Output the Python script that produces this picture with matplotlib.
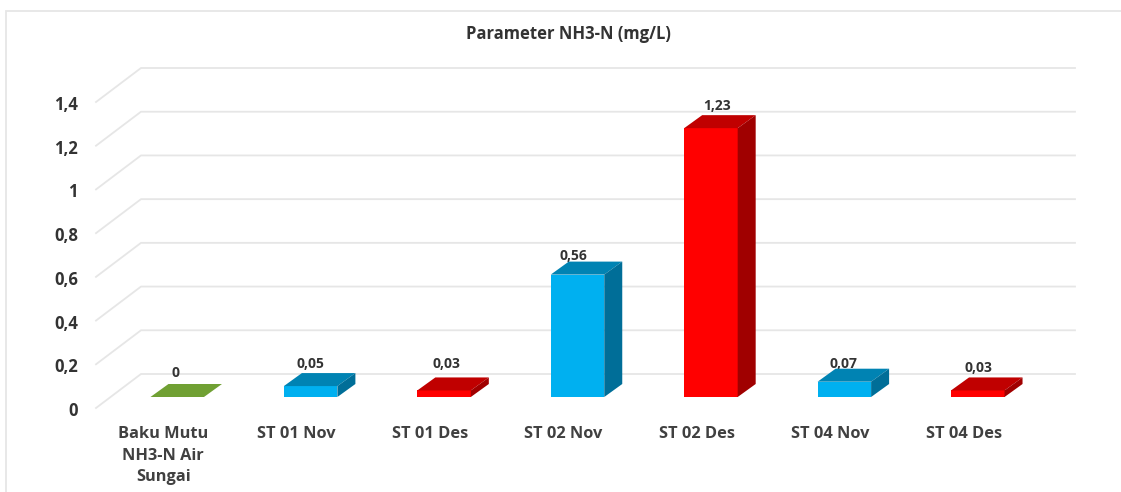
import matplotlib
matplotlib.use("Agg")
import matplotlib.pyplot as plt
from matplotlib.patches import Polygon, Rectangle
from matplotlib.transforms import Affine2D

categories = ["Baku Mutu\nNH3-N Air\nSungai", "ST 01 Nov", "ST 01 Des", "ST 02 Nov",
              "ST 02 Des", "ST 04 Nov", "ST 04 Des"]
values = [0, 0.05, 0.03, 0.56, 1.23, 0.07, 0.03]
value_labels = ["0", "0,05", "0,03", "0,56", "1,23", "0,07", "0,03"]
label_nudges = [(-2, 25), (0, 23), (2, 27), (-4, 20), (6, 23), (-1, 19), (1, 23)]
y_ticks = [0, 0.2, 0.4, 0.6, 0.8, 1.0, 1.2, 1.4]
y_tick_labels = ["0", "0,2", "0,4", "0,6", "0,8", "1", "1,2", "1,4"]
front_colors = ["#70A033", "#00B0F0", "#FF0000", "#00B0F0", "#FF0000", "#00B0F0", "#FF0000"]
top_colors = ["#70A033", "#0083B3", "#C00000", "#0083B3", "#C00000", "#0083B3", "#C00000"]
side_colors = ["#70A033", "#006E98", "#A00000", "#006E98", "#A00000", "#006E98", "#A00000"]
title = "Parameter NH3-N (mg/L)"

W, H = 1121, 492
plt.rcParams['font.family'] = ['Open Sans', 'DejaVu Sans']
fig = plt.figure(figsize=(W / 100, H / 100), dpi=100, facecolor="white")
L, R, T, B = 110.5, 1044.5, 91.0, 397.0
ax = fig.add_axes([L / W, 1 - B / H, (R - L) / W, (B - T) / H], zorder=1)
ax.set_xlim(-0.5, 6.5)
ax.set_ylim(0, 1.4)
ax.patch.set_visible(False)
for s in ax.spines.values():
    s.set_visible(False)
ax.tick_params(length=0)
ax.set_xticks(range(len(categories)))
ax.set_xticklabels([])
ax.set_yticks(y_ticks)
ax.set_yticklabels([])

fig.add_artist(Rectangle((5.5 / W, -0.1), 1.2, 1 - 11 / H + 0.1, transform=fig.transFigure,
                         fc="none", ec="#E6E6E6", lw=1.3, zorder=0.2))

def off(dx, dy):
    return ax.transData + Affine2D().translate(dx, dy)

GRID = "#E6E6E6"
for v, lab in zip(y_ticks, y_tick_labels):
    x0, y0 = ax.transData.transform((-0.5, v))
    x1, y1 = ax.transData.transform((6.5, v))
    fig.add_artist(plt.Line2D([x0 - 14.5, x0 + 30.5, x1 + 30.5], [y0 - 11, y0 + 23, y1 + 23],
                              transform=None, color=GRID, lw=1.3, zorder=0.5))
    ax.text(-0.5, v, lab, transform=off(-32.5, -14), ha="right", va="center",
            fontsize=12, fontweight="bold", color="#333333", clip_on=False)

ax.bar(range(len(values)), values, width=53.5 / 133.43, color=front_colors, zorder=3,
       clip_on=False)

DX, DY = 18, 13
for i, v in enumerate(values):
    xa, ya = ax.transData.transform((i - 26.75 / 133.43, 0))
    xb, yt = ax.transData.transform((i + 26.75 / 133.43, v))
    top = [(xa, yt), (xb, yt), (xb + DX, yt + DY), (xa + DX, yt + DY)]
    fig.add_artist(Polygon(top, closed=True, transform=None, fc=top_colors[i], ec="none", zorder=3))
    if v > 0:
        side = [(xb, ya), (xb + DX, ya + DY), (xb + DX, yt + DY), (xb, yt)]
        fig.add_artist(Polygon(side, closed=True, transform=None, fc=side_colors[i], ec="none", zorder=3))
    nx, ny = label_nudges[i]
    ax.text(i, v, value_labels[i], transform=off(nx, ny - 1), ha="center", va="center",
            fontsize=10, fontweight="bold", color="#333333", zorder=5, clip_on=False)
    ax.text(i, 0, categories[i], transform=off(-14, -29), ha="center", va="top",
            fontsize=11.8, fontweight="bold", color="#404040", linespacing=1.46, clip_on=False)

fig.text(568 / W, 1 - 34 / H, title, ha="center", va="center", fontsize=12,
         fontweight="bold", color="#333333")
fig.savefig("out.png", dpi=100)
